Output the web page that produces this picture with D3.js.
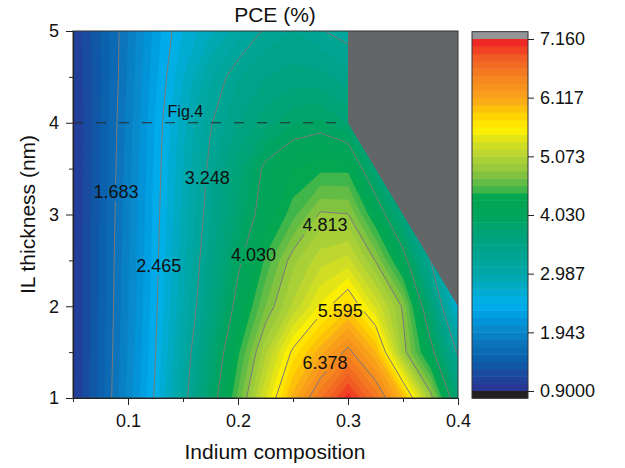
<!DOCTYPE html>
<html>
<head>
<meta charset="utf-8">
<script src="https://cdn.jsdelivr.net/npm/d3@7"></script>
<style>
  body { margin: 0; background: #fff; }
  svg text { font-family: "Liberation Sans", Arial, sans-serif; fill: #111; }
</style>
</head>
<body>
<div id="viz"></div>
<script>
// sample grid
const indium = [0.05, 0.075, 0.1, 0.125, 0.15, 0.175, 0.2, 0.225, 0.25, 0.275, 0.3, 0.325, 0.35, 0.375, 0.4];
const thickness = [1, 1.5, 2, 2.5, 3, 3.5, 4, 4.5, 5];

// PCE (%), one row per IL thickness (1 nm first). Values under the grey area are only padding.
const pce = [
  [1.00, 1.48, 1.98, 2.50, 3.13, 3.85, 4.58, 5.33, 6.04, 6.62, 7.10, 6.62, 5.97, 4.91, 3.70],
  [1.00, 1.47, 1.955, 2.46, 3.055, 3.71, 4.38, 5.04, 5.645, 6.06, 6.45, 5.99, 4.90, 4.15, 3.20],
  [1.00, 1.46, 1.93, 2.43, 2.97, 3.54, 4.14, 4.68, 5.10, 5.49, 5.80, 5.31, 4.78, 3.71, 2.60],
  [1.00, 1.45, 1.92, 2.41, 2.93, 3.45, 3.97, 4.45, 4.90, 5.15, 5.25, 4.80, 4.18, 3.25, 2.60],
  [1.00, 1.44, 1.90, 2.39, 2.89, 3.37, 3.80, 4.17, 4.50, 4.84, 4.82, 4.27, 3.60, 2.90, 2.60],
  [1.00, 1.43, 1.88, 2.37, 2.85, 3.31, 3.70, 4.09, 4.28, 4.38, 4.38, 3.70, 3.00, 2.80, 2.60],
  [1.00, 1.42, 1.86, 2.35, 2.80, 3.23, 3.50, 3.72, 3.88, 3.93, 3.75, 3.20, 3.00, 2.80, 2.60],
  [1.02, 1.41, 1.83, 2.30, 2.71, 3.10, 3.36, 3.50, 3.56, 3.55, 3.42, 3.20, 3.00, 2.80, 2.60],
  [1.05, 1.42, 1.81, 2.26, 2.60, 2.83, 3.06, 3.28, 3.38, 3.26, 3.18, 3.00, 3.00, 2.80, 2.60]
];

// corner with no data
const noDataX = [0.3, 0.3, 0.4, 0.4];
const noDataY = [5, 4, 2, 5];

// labelled contour lines
const lineLevels = [1.683, 2.465, 3.248, 4.030, 4.813, 5.595, 6.378];
const labelX = [0.089, 0.128, 0.172, 0.214, 0.279, 0.293, 0.279];
const labelY = [3.245, 2.44, 3.40, 2.56, 2.885, 1.95, 1.39];

// colour bar
const barTicks = [0.9, 1.943, 2.987, 4.030, 5.073, 6.117, 7.160];
const barTickLabels = ["0.9000", "1.943", "2.987", "4.030", "5.073", "6.117", "7.160"];
const zMin = 0.9, zMax = 7.16, nBands = 48;
const stopValues = [0.9, 1.1, 1.4, 1.7, 1.95, 2.2, 2.45, 2.75, 3.0, 3.35, 3.7, 4.05, 4.35, 4.5, 4.8, 5.1, 5.35, 5.55, 5.8, 6.1, 6.5, 6.85, 7.16];
const stopColors = ["#2e3192", "#21409a", "#0d5ba8", "#0b70b8", "#0a86c9", "#0099db", "#00b0ef", "#00abc5",
  "#00a7a8", "#00a48f", "#00a278", "#00a55a", "#00a651", "#46b649", "#8dc63f", "#b7d433", "#dbe11e",
  "#fff200", "#ffd400", "#f9a51a", "#f58220", "#f15a24", "#ed1c24"];

const xTicks = [0.1, 0.2, 0.3, 0.4];
const xMinor = [0.05, 0.15, 0.25, 0.35];
const yTicks = [1, 2, 3, 4, 5];
const yMinor = [1.5, 2.5, 3.5, 4.5];

const width = 625, height = 468;
const plot = { left: 73, right: 458, top: 31, bottom: 398 };

const svg = d3.select("#viz").append("svg")
    .attr("width", width)
    .attr("height", height);
const defs = svg.append("defs");

const x = d3.scaleLinear().domain([0.05, 0.4]).range([plot.left, plot.right]);
const y = d3.scaleLinear().domain([1, 5]).range([plot.bottom, plot.top]);
const color = d3.scaleLinear().domain(stopValues).range(stopColors).clamp(true);

const levels = d3.range(nBands + 1).map(k => zMin + k * (zMax - zMin) / nBands);
const bandColor = i => color((levels[i] + levels[i + 1]) / 2);

defs.append("clipPath").attr("id", "plotClip")
  .append("rect")
    .attr("x", plot.left).attr("y", plot.top)
    .attr("width", plot.right - plot.left).attr("height", plot.bottom - plot.top);

// grid index -> pixels (d3.contours puts sample i at i + 0.5)
const n = indium.length, m = thickness.length;
const gx = d3.scaleLinear().domain([0.5, n - 0.5]).range([x(indium[0]), x(indium[n - 1])]);
const gy = d3.scaleLinear().domain([0.5, m - 0.5]).range([y(thickness[0]), y(thickness[m - 1])]);
const path = d3.geoPath(d3.geoTransform({
    point(px, py) { this.stream.point(gx(px), gy(py)); }
}));
const values = pce.flat();

// filled bands
const fills = d3.contours().size([n, m]).thresholds(levels.slice(0, nBands))(values);
svg.append("g")
    .attr("clip-path", "url(#plotClip)")
  .selectAll("path")
  .data(fills)
  .join("path")
    .attr("d", path)
    .attr("fill", (d, i) => bandColor(i))
    .attr("stroke", (d, i) => bandColor(i))
    .attr("stroke-width", 0.4);

// contour lines, broken where labels sit
const mask = defs.append("mask").attr("id", "labelGap")
    .attr("maskUnits", "userSpaceOnUse")
    .attr("x", 0).attr("y", 0).attr("width", width).attr("height", height);
mask.append("rect").attr("width", width).attr("height", height).attr("fill", "white");

const lines = d3.contours().size([n, m]).thresholds(lineLevels)(values);
svg.append("g")
    .attr("clip-path", "url(#plotClip)")
  .append("g")
    .attr("mask", "url(#labelGap)")
  .selectAll("path")
  .data(lines)
  .join("path")
    .attr("d", path)
    .attr("fill", "none")
    .attr("stroke", "#7a7a7a")
    .attr("stroke-width", 1);

// no-data corner
svg.append("path")
    .attr("d", d3.line().x(d => x(d[0])).y(d => y(d[1]))(noDataX.map((v, i) => [v, noDataY[i]])) + "Z")
    .attr("fill", "#646567");

// Fig.4 cut
svg.append("line")
    .attr("x1", x(0.05)).attr("x2", x(0.3))
    .attr("y1", y(4)).attr("y2", y(4))
    .attr("stroke", "#2a2a2a")
    .attr("stroke-width", 1)
    .attr("stroke-dasharray", "10,13");
svg.append("text")
    .attr("x", x(0.136)).attr("y", y(4) - 6)
    .style("font-size", "16px")
    .text("Fig.4");

// contour labels
const labels = svg.append("g").selectAll("text")
  .data(lineLevels)
  .join("text")
    .attr("x", (d, i) => x(labelX[i]))
    .attr("y", (d, i) => y(labelY[i]))
    .attr("dy", "0.35em")
    .attr("text-anchor", "middle")
    .style("font-size", "18px")
    .text(d => d.toFixed(3));
labels.each(function() {
    const b = this.getBBox();
    mask.append("rect")
        .attr("x", b.x - 1).attr("y", b.y + 2)
        .attr("width", b.width + 2).attr("height", b.height - 3)
        .attr("fill", "black");
});

// frame
svg.append("rect")
    .attr("x", plot.left).attr("y", plot.top)
    .attr("width", plot.right - plot.left).attr("height", plot.bottom - plot.top)
    .attr("fill", "none").attr("stroke", "#333").attr("stroke-width", 1);

// axes
function styleAxis(g) {
    g.selectAll(".domain").attr("stroke", "#222");
    g.selectAll(".tick line").attr("stroke", "#222");
    g.selectAll(".tick text").style("font-size", "18px").attr("fill", "#111")
        .style("font-family", "'Liberation Sans', Arial, sans-serif");
}
svg.append("g")
    .attr("transform", `translate(0,${plot.bottom})`)
    .call(d3.axisBottom(x).tickValues(xMinor).tickSize(4).tickFormat(""))
    .call(g => g.select(".domain").remove())
    .call(styleAxis);
svg.append("g")
    .attr("transform", `translate(0,${plot.bottom})`)
    .call(d3.axisBottom(x).tickValues(xTicks).tickSize(7).tickSizeOuter(0).tickPadding(9).tickFormat(d3.format(".1f")))
    .call(styleAxis);
svg.append("g")
    .attr("transform", `translate(${plot.left},0)`)
    .call(d3.axisLeft(y).tickValues(yMinor).tickSize(4).tickFormat(""))
    .call(g => g.select(".domain").remove())
    .call(styleAxis);
svg.append("g")
    .attr("transform", `translate(${plot.left},0)`)
    .call(d3.axisLeft(y).tickValues(yTicks).tickSize(7).tickSizeOuter(0).tickPadding(7).tickFormat(d3.format("d")))
    .call(styleAxis);

// titles
const titleX = 275;
svg.append("text")
    .attr("x", titleX).attr("y", 22)
    .attr("text-anchor", "middle")
    .style("font-size", "21px")
    .text("PCE (%)");
svg.append("text")
    .attr("x", titleX).attr("y", 459)
    .attr("text-anchor", "middle")
    .style("font-size", "21px")
    .text("Indium composition");
svg.append("text")
    .attr("transform", `translate(35,${(plot.top + plot.bottom) / 2}) rotate(-90)`)
    .attr("text-anchor", "middle")
    .style("font-size", "21px")
    .text("IL thickness (nm)");

// colour bar
const bar = { left: 472, right: 528 };
const cb = d3.scaleLinear().domain([zMin, zMax]).range([391, 39]);
const step = cb(zMin) - cb(zMin + (zMax - zMin) / nBands);
const barG = svg.append("g");
barG.selectAll("rect.band")
  .data(d3.range(nBands))
  .join("rect")
    .attr("class", "band")
    .attr("x", bar.left)
    .attr("y", i => cb(levels[i + 1]))
    .attr("width", bar.right - bar.left)
    .attr("height", i => cb(levels[i]) - cb(levels[i + 1]) + 0.5)
    .attr("fill", i => bandColor(i));
barG.append("rect")
    .attr("x", bar.left).attr("y", cb(zMax) - step)
    .attr("width", bar.right - bar.left).attr("height", step)
    .attr("fill", "#939598");
barG.append("rect")
    .attr("x", bar.left).attr("y", cb(zMin))
    .attr("width", bar.right - bar.left).attr("height", step)
    .attr("fill", "#231f20");
barG.append("rect")
    .attr("x", bar.left).attr("y", cb(zMax) - step)
    .attr("width", bar.right - bar.left).attr("height", cb(zMin) - cb(zMax) + 2 * step)
    .attr("fill", "none").attr("stroke", "#333").attr("stroke-width", 1);
svg.append("g")
    .attr("transform", `translate(${bar.right},0)`)
    .call(d3.axisRight(cb).tickValues(barTicks).tickSize(6).tickPadding(6)
        .tickFormat((d, i) => barTickLabels[i]))
    .call(g => g.select(".domain").remove())
    .call(styleAxis);
</script>
</body>
</html>
